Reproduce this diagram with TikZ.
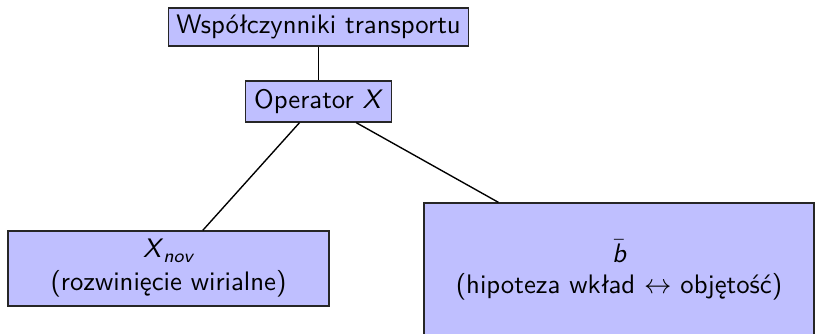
\documentclass[tikz,border=0pt]{standalone}
\usepackage{fontspec}
\usepackage{amsmath}
\renewcommand{\familydefault}{\sfdefault}
\tikzset{
  box/.style={draw=black!85, line width=0.5pt, fill=blue!25, align=center, inner sep=0pt,
              font=\sffamily\fontsize{10.7}{13.2}\selectfont},
  link/.style={draw=black, line width=0.55pt}
}
\newcommand{\vx}[1]{\textit{#1}}
\begin{document}
\begin{tikzpicture}[x=0.4pt, y=-0.4pt]
  \useasboundingbox (0,0) rectangle (817,333);
  \clip (0,0) rectangle (817,333);
  \node[box, minimum width=300*0.4pt, minimum height=38*0.4pt] (top) at (318.5,27)
    {Współczynniki transportu};
  \node[box, minimum width=146*0.4pt, minimum height=41*0.4pt] (op) at (318.5,101.5)
    {Operator \vx{X}};
  \node[box, minimum width=321*0.4pt, minimum height=75*0.4pt] (nov) at (168.5,268.5)
    {\vx{X}$_{\vx{nov}}$\\(rozwinięcie wirialne)};
  \node[box, minimum width=390*0.4pt, minimum height=134*0.4pt] (bb) at (619,270)
    {$\bar{\vx{b}}$\\[-1pt](hipoteza wkład $\leftrightarrow$ objętość)};
  \draw[link] (top) -- (op);
  \draw[link] (op) -- (nov);
  \draw[link] (op) -- (bb);
\end{tikzpicture}
\end{document}
